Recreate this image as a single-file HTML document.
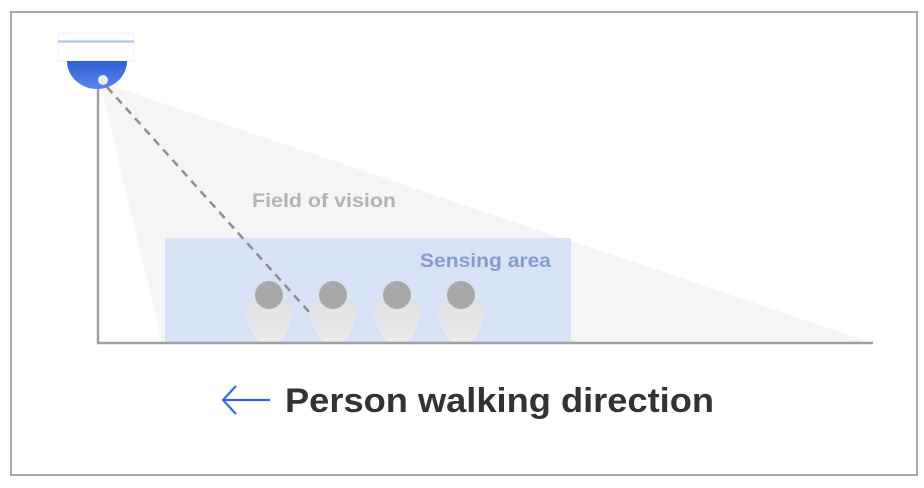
<!DOCTYPE html>
<html><head><meta charset="utf-8"><style>
html,body{margin:0;padding:0;background:#fff;}
svg{display:block;}
</style></head><body>
<svg width="924" height="488" viewBox="0 0 924 488" xmlns="http://www.w3.org/2000/svg">
<defs>
<linearGradient id="body" x1="0" y1="0" x2="0" y2="1">
<stop offset="0" stop-color="#e0e0e0"/><stop offset="1" stop-color="#ececec"/>
</linearGradient>
<linearGradient id="dome" x1="0" y1="0" x2="0" y2="1">
<stop offset="0" stop-color="#2f5fd6"/><stop offset="1" stop-color="#5b86ee"/>
</linearGradient>
</defs>
<rect x="0" y="0" width="924" height="488" fill="#fff"/>
<rect x="11" y="12" width="906" height="463" fill="#fff" stroke="#a9a9a9" stroke-width="2"/>
<polygon points="100,82 162,343 873,343" fill="#f5f5f5"/>
<rect x="165" y="238" width="406" height="105" fill="#d7e2f5"/>
<g>
<path d="M246,308 Q246,298 269,298 Q292,298 292,308 Q293,322 283,337 Q279,343 269,343 Q259,343 255,337 Q245,322 246,308Z" fill="url(#body)"/>
<circle cx="269" cy="295" r="14" fill="#a8a8a8"/>
<path d="M310,308 Q310,298 333,298 Q356,298 356,308 Q357,322 347,337 Q343,343 333,343 Q323,343 319,337 Q309,322 310,308Z" fill="url(#body)"/>
<circle cx="333" cy="295" r="14" fill="#a8a8a8"/>
<path d="M374,308 Q374,298 397,298 Q420,298 420,308 Q421,322 411,337 Q407,343 397,343 Q387,343 383,337 Q373,322 374,308Z" fill="url(#body)"/>
<circle cx="397" cy="295" r="14" fill="#a8a8a8"/>
<path d="M438,308 Q438,298 461,298 Q484,298 484,308 Q485,322 475,337 Q471,343 461,343 Q451,343 447,337 Q437,322 438,308Z" fill="url(#body)"/>
<circle cx="461" cy="295" r="14" fill="#a8a8a8"/>
</g>
<line x1="107" y1="87" x2="310" y2="313" stroke="#8a8f99" stroke-width="2.5" stroke-dasharray="8,6"/>
<line x1="98" y1="84" x2="98" y2="344" stroke="#a0a0a0" stroke-width="2.5"/>
<line x1="97" y1="343" x2="873" y2="343" stroke="#a0a0a0" stroke-width="2.5"/>
<rect x="58" y="33" width="76" height="28" fill="#fff" stroke="#eef1f8" stroke-width="1"/>
<line x1="58" y1="41.5" x2="134" y2="41.5" stroke="#a8c0f0" stroke-width="2"/>
<path d="M67,61 L127,61 A30,28 0 0 1 67,61 Z" fill="url(#dome)"/>
<circle cx="103" cy="80" r="5" fill="#e8eefc"/>
<text x="252" y="207" font-family="Liberation Sans, sans-serif" font-weight="bold" font-size="19" fill="#b4b4b4" textLength="144" lengthAdjust="spacingAndGlyphs">Field of vision</text>
<text x="420" y="267" font-family="Liberation Sans, sans-serif" font-weight="bold" font-size="19" fill="#869ccd" textLength="131" lengthAdjust="spacingAndGlyphs">Sensing area</text>
<line x1="223" y1="400" x2="270" y2="400" stroke="#2e6be6" stroke-width="2.2"/>
<polyline points="236,386 223,400 236,414" fill="none" stroke="#2e6be6" stroke-width="2.2"/>
<text x="285" y="412" font-family="Liberation Sans, sans-serif" font-weight="bold" font-size="34" fill="#333" textLength="429" lengthAdjust="spacingAndGlyphs">Person walking direction</text>
</svg>
</body></html>
